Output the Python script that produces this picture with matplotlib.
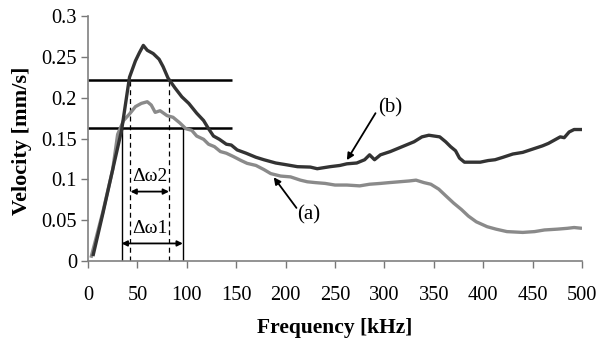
import matplotlib
matplotlib.use("Agg")
import matplotlib.pyplot as plt

plt.rcParams['font.family'] = ['Liberation Serif', 'DejaVu Serif']

# curve (b): dark trace
freq_b = [5, 15, 25, 34, 42, 48, 52, 56, 60, 66, 72, 76, 81, 88, 95, 102, 110,
          117, 122, 127, 133, 140, 145, 151, 160, 170, 178, 190, 200, 212, 225,
          232, 245, 255, 262, 272, 280, 285, 290, 296, 306, 318, 330, 338, 345,
          356, 362, 367, 372, 376, 381, 390, 397, 405, 412, 420, 430, 440, 450,
          460, 466, 472, 478, 482, 487, 492, 500]
vel_b = [0.006, 0.058, 0.112, 0.160, 0.225, 0.245, 0.255, 0.264, 0.258, 0.254,
         0.247, 0.238, 0.224, 0.212, 0.201, 0.193, 0.181, 0.172, 0.162, 0.153,
         0.149, 0.143, 0.142, 0.136, 0.132, 0.127, 0.124, 0.120, 0.118, 0.1155,
         0.115, 0.113, 0.1155, 0.117, 0.119, 0.120, 0.124, 0.130, 0.124, 0.130,
         0.134, 0.140, 0.146, 0.152, 0.154, 0.152, 0.146, 0.140, 0.135, 0.126,
         0.121, 0.121, 0.121, 0.123, 0.124, 0.127, 0.131, 0.133, 0.137, 0.141,
         0.144, 0.148, 0.152, 0.151, 0.158, 0.161, 0.161]

# curve (a): grey trace
freq_a = [3, 15, 25, 30, 36, 42, 48, 54, 60, 64, 68, 73, 80, 86, 93, 99, 105,
          110, 117, 122, 128, 134, 140, 147, 155, 161, 170, 178, 185, 195, 205,
          215, 222, 230, 240, 250, 262, 275, 285, 296, 305, 315, 325, 332, 340,
          347, 355, 362, 370, 378, 385, 393, 404, 413, 424, 440, 452, 462, 475,
          485, 492, 500]
vel_a = [0.004, 0.060, 0.112, 0.155, 0.172, 0.180, 0.189, 0.193, 0.195, 0.191,
         0.182, 0.184, 0.178, 0.176, 0.169, 0.162, 0.160, 0.153, 0.149, 0.143,
         0.140, 0.134, 0.132, 0.128, 0.123, 0.1196, 0.117, 0.112, 0.107, 0.104,
         0.103, 0.099, 0.097, 0.096, 0.095, 0.093, 0.093, 0.092, 0.094, 0.095,
         0.096, 0.097, 0.098, 0.099, 0.096, 0.094, 0.088, 0.080, 0.071, 0.063,
         0.055, 0.048, 0.042, 0.039, 0.036, 0.035, 0.036, 0.038, 0.039, 0.040,
         0.041, 0.040]

# bandwidth markers
level_hi = 0.222
level_lo = 0.163
band1 = [34, 96]   # solid, at level_lo
band2 = [43, 82]   # dashed, at level_hi
x_ticks = [0, 50, 100, 150, 200, 250, 300, 350, 400, 450, 500]
y_ticks = [0, 0.05, 0.1, 0.15, 0.2, 0.25, 0.3]
y_tick_labels = ['0', '0.05', '0.1', '0.15', '0.2', '0.25', '0.3']

fig = plt.figure(figsize=(6.06, 3.38), dpi=100)
ax = fig.add_axes([88 / 606, 77 / 338, 494 / 606, 245 / 338])

ax.plot(freq_a, vel_a, color='#8a8a8a', lw=2.4, solid_capstyle='butt', zorder=3)
ax.plot(freq_b, vel_b, color='#333333', lw=2.4, solid_capstyle='butt', zorder=4)

ax.hlines([level_hi, level_lo], 0, 146, color='black', lw=1.8, zorder=2)
ax.vlines(band1, 0, level_lo, color='black', lw=1.0, zorder=2)
ax.vlines(band2, 0, level_hi, color='black', lw=0.9, linestyles=(0, (4, 3)), zorder=2)

arrow = dict(arrowstyle='<|-|>', color='black', lw=1.3, mutation_scale=8,
             shrinkA=0, shrinkB=0)
ax.annotate('', xy=(band2[0], 0.085), xytext=(band2[1], 0.085), arrowprops=arrow)
ax.annotate('', xy=(band1[0], 0.0215), xytext=(band1[1], 0.0215), arrowprops=arrow)
ax.text(sum(band2) / 2, 0.093, 'Δω2', ha='center', va='bottom', fontsize=14)
ax.text(sum(band1) / 2 - 2, 0.029, 'Δω1', ha='center', va='bottom', fontsize=14)

one = dict(arrowstyle='-|>', color='black', lw=1.3, mutation_scale=10,
           shrinkA=0, shrinkB=0)
ax.annotate('', xy=(262, 0.1235), xytext=(291, 0.181), arrowprops=one)
ax.text(294, 0.188, '(b)', ha='left', va='center', fontsize=15)
ax.annotate('', xy=(188, 0.1025), xytext=(211, 0.065), arrowprops=one)
ax.text(212, 0.056, '(a)', ha='left', va='center', fontsize=15)

ax.set_xlim(0, 500)
ax.set_ylim(0, 0.3)
ax.set_xticks(x_ticks)
ax.set_yticks(y_ticks)
ax.set_yticklabels(y_tick_labels)
ax.tick_params(axis='both', direction='out', length=5, width=1, color='#777777',
               labelsize=14.7)
ax.tick_params(axis='x', pad=13)
ax.tick_params(axis='y', pad=3)
for side in ['top', 'right']:
    ax.spines[side].set_visible(False)
for side in ['left', 'bottom']:
    ax.spines[side].set_color('#808080')
    ax.spines[side].set_linewidth(1.2)

ax.set_xlabel('Frequency [kHz]', fontsize=15.5, fontweight='bold', labelpad=9)
ax.set_ylabel('Velocity [mm/s]', fontsize=16, fontweight='bold')
ax.yaxis.set_label_coords(-0.113, 0.49)

fig.savefig('out.png', dpi=100)
